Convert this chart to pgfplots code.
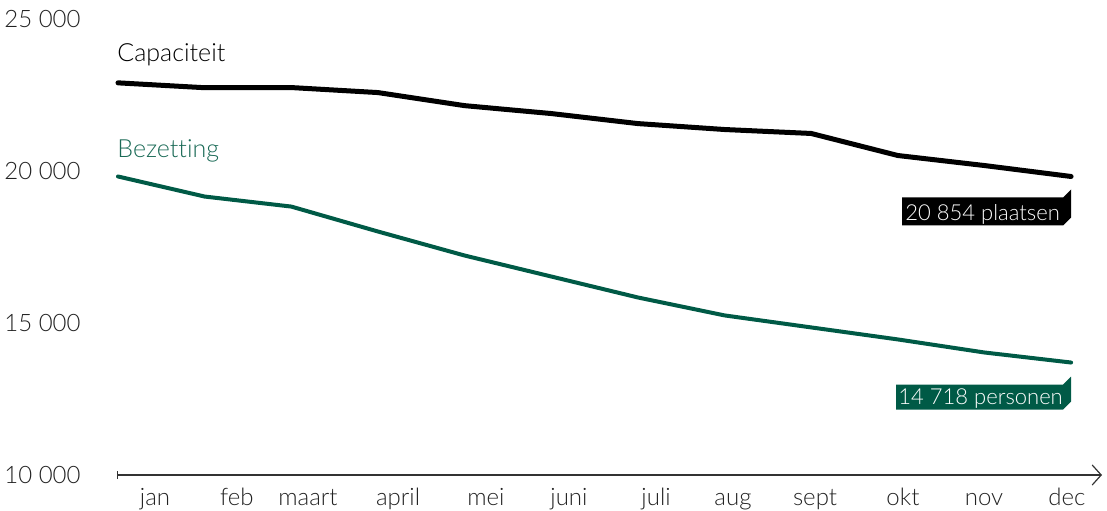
\documentclass[border=0pt]{standalone}
\usepackage{fontspec}
\setmainfont{Lato Light}[Ligatures={NoCommon}]
\usepackage{pgfplots}
\pgfplotsset{compat=1.18}
\usetikzlibrary{arrows.meta}
\definecolor{grn}{HTML}{005A46}
\definecolor{grntxt}{HTML}{1A6A56}
\definecolor{tick}{HTML}{222222}
\begin{document}
\begin{tikzpicture}
\useasboundingbox (-58.5pt,-17.5pt) rectangle (495pt,237.5pt);
\begin{axis}[
  at={(0,0)}, anchor=south west, scale only axis,
  width=492.5pt, height=228pt,
  xmin=-0.0115, xmax=11.357, ymin=10000, ymax=25000,
  axis x line=bottom, axis y line=left,
  y axis line style={draw=none},
  x axis line style={draw=black!80, line width=0.6pt, {Bar[width=4pt]}-{Straight Barb[length=4.5pt,width=10pt]}},
  xtick={0.427,1.373,2.193,3.232,4.247,5.205,6.21,7.098,8.045,9.06,9.995,10.953},
  xticklabels={jan,feb,maart,april,mei,juni,juli,aug,sept,okt,nov,dec},
  ytick={10000,15000,20000,25000},
  yticklabels={10 000,15 000,20 000,25 000},
  scaled y ticks=false,
  major tick length=0pt,
  tick style={draw=none},
  xticklabel style={anchor=base, inner sep=0pt, yshift=-15pt, text=tick, font=\fontsize{12}{14}\selectfont},
  yticklabel style={anchor=east, inner sep=0pt, xshift=-18pt, text=tick, font=\fontsize{12}{14}\selectfont},
  clip=false,
]
\addplot[black, line width=2.5pt, line cap=round, line join=round] coordinates {
(0,22900) (1,22740) (2,22745) (3,22580) (4,22150) (5,21890) (6,21560) (7,21365) (8,21235) (9,20510) (10,20180) (11,19820)};
\addplot[grn, line width=2pt, line cap=round, line join=round] coordinates {
(0,19820) (1,19160) (2,18830) (3,18010) (4,17220) (5,16530) (6,15840) (7,15250) (8,14855) (9,14460) (10,14030) (11,13700)};
\node[anchor=base west, inner sep=0pt, font=\fontsize{12.5}{15}\selectfont] at (axis cs:-0.0115,23586) {Capaciteit};
\node[anchor=base west, inner sep=0pt, text=grntxt, font=\fontsize{12.5}{15}\selectfont] at (axis cs:-0.0115,20460) {Bezetting};
\fill[black] (axis cs:11,19820) ++(-84.5pt,-10.5pt) -- ++(80.5pt,0pt) -- ++(4pt,4pt) -- ++(0pt,-14pt) -- ++(-4pt,-4pt) -- ++(-80.5pt,0pt) -- cycle;
\fill[grn] (axis cs:11,13700) ++(-87.5pt,-11pt) -- ++(83.5pt,0pt) -- ++(4pt,4pt) -- ++(0pt,-12.5pt) -- ++(-4pt,-4pt) -- ++(-83.5pt,0pt) -- cycle;
\node[anchor=base west, inner sep=0pt, text=white, font=\fontsize{11}{13}\selectfont] at ([shift={(-83pt,-22pt)}]axis cs:11,19820) {20 854 plaatsen};
\node[anchor=base west, inner sep=0pt, text=white, font=\fontsize{11}{13}\selectfont] at ([shift={(-86.5pt,-21pt)}]axis cs:11,13700) {14 718 personen};
\end{axis}
\end{tikzpicture}
\end{document}
